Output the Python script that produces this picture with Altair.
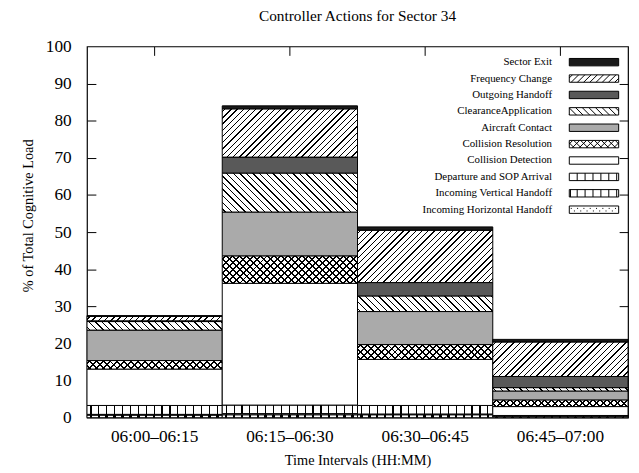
import math
import altair as alt

# ---------------- data ----------------
intervals = ["06:00\u201306:15", "06:15\u201306:30", "06:30\u201306:45", "06:45\u201307:00"]

# stacking order, bottom to top
series_stack = [
    "Incoming Horizontal Handoff",
    "Incoming Vertical Handoff",
    "Departure and SOP Arrival",
    "Collision Detection",
    "Collision Resolution",
    "Aircraft Contact",
    "ClearanceApplication",
    "Outgoing Handoff",
    "Frequency Change",
    "Sector Exit",
]

ih_values = [0.7, 0.8, 0.8, 0.3]
iv_values = [0.2, 0.3, 0.2, 0.1]
dep_values = [2.4, 2.3, 2.3, 0.2]
cd_values = [9.8, 32.8, 12.4, 2.4]
cr_values = [2.3, 7.4, 4.0, 1.8]
ac_values = [8.2, 11.8, 8.9, 2.4]
ca_values = [2.3, 10.5, 4.2, 0.9]
oh_values = [0.2, 4.3, 3.6, 3.0]
fc_values = [1.2, 13.0, 14.1, 9.3]
se_values = [0.2, 0.8, 0.9, 0.7]

values = {
    "Incoming Horizontal Handoff": ih_values,
    "Incoming Vertical Handoff": iv_values,
    "Departure and SOP Arrival": dep_values,
    "Collision Detection": cd_values,
    "Collision Resolution": cr_values,
    "Aircraft Contact": ac_values,
    "ClearanceApplication": ca_values,
    "Outgoing Handoff": oh_values,
    "Frequency Change": fc_values,
    "Sector Exit": se_values,
}

y_tick_values = [0, 10, 20, 30, 40, 50, 60, 70, 80, 90, 100]
inner_tick_values = [10, 20, 30, 40, 50, 60, 70, 80, 90]

legend_order = list(reversed(series_stack))

# ---------------- styles ----------------
PLOT_W, PLOT_H = 548, 376
BAR_W = PLOT_W / len(intervals)
PX = PLOT_H / 100.0
SERIF = "Liberation Serif"

bar_style = {
    "Sector Exit": ("solid", "#1a1a1a"),
    "Frequency Change": ("fwd", 6.3, 1.0),
    "Outgoing Handoff": ("solid", "#595959"),
    "ClearanceApplication": ("back", 6.7, 1.0),
    "Aircraft Contact": ("solid", "#aaaaaa"),
    "Collision Resolution": ("cross", 7.0, 1.4),
    "Collision Detection": ("solid", "white"),
    "Departure and SOP Arrival": ("vert", 8.0, 1.2),
    "Incoming Vertical Handoff": ("vert", 8.0, 1.0),
    "Incoming Horizontal Handoff": ("vert", 8.0, 2.5),
}


def stops_for(L, spacing, lw, fg, bg):
    st = [{"offset": 0, "color": bg}]
    p = spacing / 2.0
    while p - lw / 2.0 < L:
        a = round(max(0.0, (p - lw / 2.0) / L), 5)
        b = round(min(1.0, (p + lw / 2.0) / L), 5)
        st += [{"offset": a, "color": bg}, {"offset": a, "color": fg},
               {"offset": b, "color": fg}, {"offset": b, "color": bg}]
        p += spacing
    st.append({"offset": 1, "color": bg})
    return st


def hatch(kind, H, spacing, lw, fg="black", bg="white"):
    W = BAR_W
    H = max(H, 0.05)
    if kind == "vert":
        return {"gradient": "linear", "x1": 0, "y1": 0, "x2": 1, "y2": 0,
                "stops": stops_for(W, spacing, lw, fg, bg)}
    s = (W + H) / (W * W + H * H)
    L = W + H
    lwc = lw * math.sqrt(2)
    if kind == "fwd":
        return {"gradient": "linear", "x1": 0, "y1": 0, "x2": W * s, "y2": H * s,
                "stops": stops_for(L, spacing, lwc, fg, bg)}
    return {"gradient": "linear", "x1": 0, "y1": 1, "x2": W * s, "y2": 1 - H * s,
            "stops": stops_for(L, spacing, lwc, fg, bg)}


def fills_for(name, H):
    st = bar_style[name]
    if st[0] == "solid":
        return st[1], "rgba(0,0,0,0)"
    if st[0] == "cross":
        return (hatch("fwd", H, st[1], st[2]),
                hatch("back", H, st[1], st[2], bg="rgba(0,0,0,0)"))
    return hatch(st[0], H, st[1], st[2]), "rgba(0,0,0,0)"


records = []
for j, iv in enumerate(intervals):
    cum = 0.0
    for i, s in enumerate(series_stack):
        v = values[s][j]
        f1, f2 = fills_for(s, v * PX)
        records.append({
            "interval": iv, "series": s, "order": i, "value": v,
            "y0": round(cum, 3), "y1": round(cum + v, 3), "mid": round(cum + v / 2, 3),
            "fill1": f1, "fill2": f2,
        })
        cum += v

# ---------------- legend swatches (custom symbol paths) ----------------
SYM_D = 10.0          # nominal symbol box (px)
SW_X0 = 23.0          # swatch left edge, px right of symbol centre
SW_W, SW_H = 50.0, 7.5
HH = SW_H / 2


def P(x, y):
    return f"{(SW_X0 + x) / (SYM_D / 2):.3f},{y / (SYM_D / 2):.3f}"


RECT = f"M{P(0, -HH)}L{P(SW_W, -HH)}L{P(SW_W, HH)}L{P(0, HH)}Z"


def diag_lines(spacing, mirror=False):
    segs = []
    c = -2 * HH + spacing / 2
    while c < SW_W:
        x0, y0, x1, y1 = c, HH, c + 2 * HH, -HH
        if x0 < 0:
            y0 -= (0 - x0)
            x0 = 0
        if x1 > SW_W:
            y1 += (x1 - SW_W)
            x1 = SW_W
        if x1 > x0:
            if mirror:
                x0, x1 = SW_W - x0, SW_W - x1
            segs.append(f"M{P(x0, y0)}L{P(x1, y1)}")
        c += spacing
    return "".join(segs)


def vlines(spacing, extra_left=False):
    segs = []
    x = spacing
    while x < SW_W - 0.5:
        segs.append(f"M{P(x, -HH)}L{P(x, HH)}")
        x += spacing
    if extra_left:
        segs.append(f"M{P(1.2, -HH)}L{P(1.2, HH)}")
    return "".join(segs)


def dots():
    segs = []
    x = 1.5
    k = 0
    while x < SW_W - 1.5:
        y = -1.3 if k % 2 == 0 else 1.3
        segs.append(f"M{P(x, y)}L{P(x + 1.0, y)}")
        x += 3.2
        k += 1
    return "".join(segs)


legend_shape = {
    "Sector Exit": RECT,
    "Frequency Change": RECT + diag_lines(6.3),
    "Outgoing Handoff": RECT,
    "ClearanceApplication": RECT + diag_lines(6.7, mirror=True),
    "Aircraft Contact": RECT,
    "Collision Resolution": RECT + diag_lines(7.0) + diag_lines(7.0, mirror=True),
    "Collision Detection": RECT,
    "Departure and SOP Arrival": RECT + vlines(8.0),
    "Incoming Vertical Handoff": RECT + vlines(8.0, extra_left=True),
    "Incoming Horizontal Handoff": RECT + dots(),
}
legend_fill = {
    "Sector Exit": "#1a1a1a",
    "Outgoing Handoff": "#595959",
    "Aircraft Contact": "#aaaaaa",
}

data = alt.Data(values=records)

xscale = alt.Scale(type="band", domain=intervals, paddingInner=0, paddingOuter=0)
yscale = alt.Scale(domain=[0, 100], nice=False, zero=True)

leg = alt.Legend(
    title=None, orient="none", legendX=460, legendY=10.4, padding=0,
    symbolSize=SYM_D * SYM_D, symbolStrokeColor="black", symbolStrokeWidth=1, symbolOpacity=1,
    labelFont=SERIF, labelFontSize=11, labelColor="black", labelAlign="right",
    labelOffset=0, labelLimit=400, rowPadding=3.6,
)

points = alt.Chart().mark_point(filled=True, size=0, opacity=1, stroke="black", strokeWidth=1).encode(
    x=alt.X("interval:N", sort=intervals, scale=xscale,
            axis=alt.Axis(orient="bottom", title="Time Intervals (HH:MM)", labelAngle=0,
                          ticks=False, domain=False, labelPadding=10, titlePadding=9)),
    y=alt.Y("mid:Q", scale=yscale,
            axis=alt.Axis(orient="left", values=y_tick_values, ticks=False, domain=False,
                          labelPadding=16, title="% of Total Cognitive Load", titlePadding=10,
                          titleY=171)),
    color=alt.Color("series:N", scale=alt.Scale(domain=legend_order,
                                               range=[legend_fill.get(s, "white") for s in legend_order]),
                    legend=leg),
    shape=alt.Shape("series:N", scale=alt.Scale(domain=legend_order,
                                               range=[legend_shape[s] for s in legend_order]),
                    legend=leg),
)

bars = alt.Chart().mark_bar(stroke="black", strokeWidth=1).encode(
    x=alt.X("interval:N", sort=intervals, scale=xscale,
            axis=alt.Axis(orient="top", labels=False, ticks=True, tickSize=9, offset=-9,
                          domain=False, title=None, tickColor="black")),
    y=alt.Y("y1:Q", scale=yscale,
            axis=alt.Axis(orient="left", values=inner_tick_values, labels=False, ticks=True,
                          tickSize=9, offset=-9, domain=False, title=None, tickColor="black")),
    y2="y0:Q",
    color=alt.Color("fill1:N", scale=None),
)

overlay = alt.Chart().transform_filter(
    alt.datum.series == "Collision Resolution"
).mark_bar(strokeWidth=0).encode(
    x=alt.X("interval:N", sort=intervals, scale=xscale, axis=None),
    y=alt.Y("y1:Q", scale=yscale,
            axis=alt.Axis(orient="right", values=inner_tick_values, labels=False, ticks=True,
                          tickSize=9, offset=-9, domain=False, title=None, tickColor="black")),
    y2="y0:Q",
    color=alt.Color("fill2:N", scale=None),
)

chart = alt.layer(points, bars, overlay, data=data).resolve_axis(
    x="independent", y="independent"
).properties(
    width=PLOT_W, height=PLOT_H,
    padding={"left": 80, "top": 36, "right": 3, "bottom": 50},
    autosize=alt.AutoSizeParams(type="none"),
    title=alt.TitleParams("Controller Actions for Sector 34", font=SERIF, fontSize=15.5,
                          fontWeight="normal", color="black", anchor="middle",
                          baseline="alphabetic", offset=9, dy=8),
).configure_axis(
    labelFont=SERIF, labelFontSize=17.5, labelColor="black",
    titleFont=SERIF, titleFontSize=14.5, titleFontWeight="normal", titleColor="black",
    grid=False,
).configure_view(stroke="black", strokeWidth=1.2)

chart.save("out.html", embed_options={"renderer": "svg", "actions": False})
